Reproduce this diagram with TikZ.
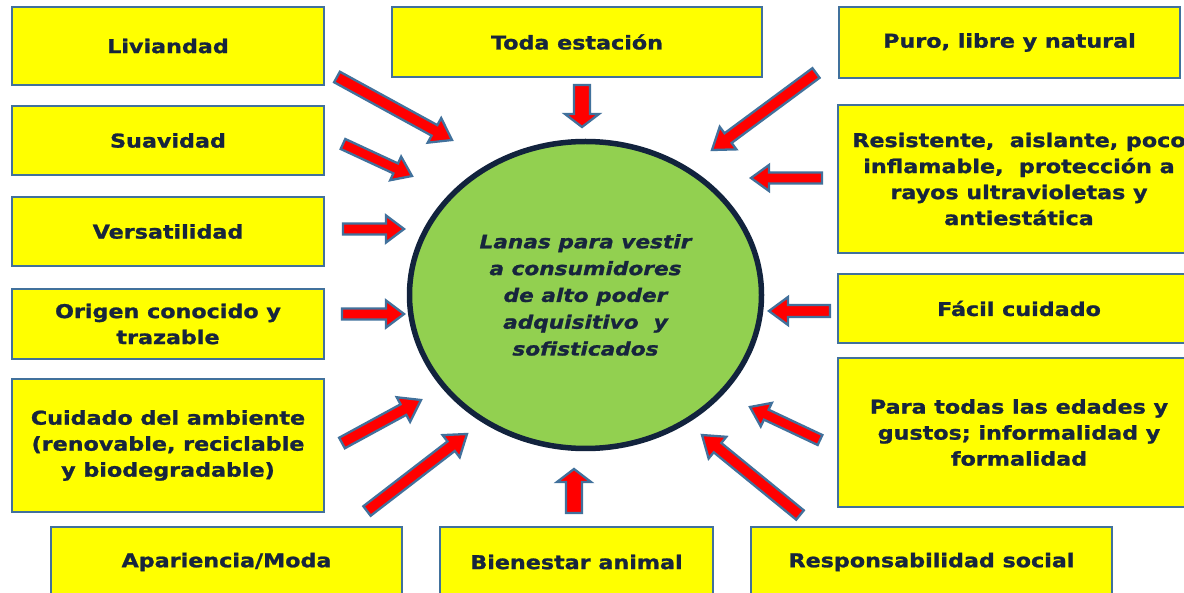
\documentclass[tikz,border=0pt]{standalone}
\usepackage{fontspec}
\newfontfamily\boxfont{DejaVu Sans}[FakeStretch=1.17, BoldFeatures={FakeBold=1.2}, BoldItalicFeatures={FakeBold=1.2}]
\usetikzlibrary{calc,shapes.geometric}
\definecolor{boxyellow}{RGB}{255,255,0}
\definecolor{boxline}{RGB}{65,113,156}
\definecolor{txt}{RGB}{23,37,61}
\definecolor{cgreen}{RGB}{146,208,80}
\definecolor{cline}{RGB}{18,35,61}
\definecolor{ared}{RGB}{255,0,0}
\tikzset{
  box/.style={draw=boxline, line width=2pt, fill=boxyellow, text=txt,
    font=\boxfont\bfseries\fontsize{19}{26}\selectfont, align=center, inner sep=0pt},
  hub/.style={ellipse, draw=cline, line width=5.5pt, fill=cgreen, text=txt,
    font=\boxfont\bfseries\itshape\fontsize{18.5}{26.8}\selectfont, align=center, inner sep=0pt},
  arrowshape/.style={draw=boxline, line width=2.3pt, fill=ared, line join=miter},
}
\newcommand\blockarrow[5]{%
  \coordinate (bah) at ($(#2)!#5!(#1)$);
  \draw[arrowshape] ($(#1)!#3!90:(#2)$) -- ($(bah)!#3!90:(#2)$) -- ($(bah)!#4!90:(#2)$) -- (#2)
    -- ($(bah)!#4!-90:(#2)$) -- ($(bah)!#3!-90:(#2)$) -- ($(#1)!#3!-90:(#2)$) -- cycle;}
\begin{document}
\begin{tikzpicture}[x=1pt,y=-1pt]
\useasboundingbox (0,0) rectangle (1184,593);
\clip (0,0) rectangle (1184,593);
\fill[white] (0,0) rectangle (1184,593);

% left column
\node[box, minimum width=312pt, minimum height=78pt] (liv) at (168,46) {Liviandad};
\node[box, minimum width=312pt, minimum height=69pt] (sua) at (168,140.5) {Suavidad};
\node[box, minimum width=312pt, minimum height=69pt] (ver) at (168,231.5) {Versatilidad};
\node[box, minimum width=312pt, minimum height=70pt] (ori) at (168,324) {Origen conocido y\\trazable};
\node[box, minimum width=312pt, minimum height=133pt] (cui) at (168,445.5) {Cuidado del ambiente\\(renovable, reciclable\\y biodegradable)};
% bottom row
\node[box, minimum width=351pt, minimum height=70pt] (apa) at (226.5,562) {Apariencia/Moda};
\node[box, minimum width=273pt, minimum height=70pt] (bie) at (576.5,562) {Bienestar animal};
\node[box, minimum width=361pt, minimum height=70pt] (rso) at (931.5,562) {Responsabilidad social};
% top row
\node[box, minimum width=370pt, minimum height=70pt] (tod) at (577,42) {Toda estación};
\node[box, minimum width=341pt, minimum height=71pt] (pur) at (1009.5,42.5) {Puro, libre y natural};
% right column
\node[box, minimum width=362pt, minimum height=148pt] (rsi) at (1019,179) {Resistente,\ \ aislante, poco\\inflamable,\ \ protección a\\rayos ultravioletas y\\antiestática};
\node[box, minimum width=362pt, minimum height=69pt] (fac) at (1019,308.5) {Fácil cuidado};
\node[box, minimum width=362pt, minimum height=149pt] (par) at (1019,432.5) {Para todas las edades y\\gustos; informalidad y\\formalidad};

% centre
\node[hub, minimum width=352pt, minimum height=307pt] (c) at (585.5,295) {Lanas para vestir\\a consumidores\\de alto poder\\adquisitivo\ \ y\\sofisticados};

% arrow ends
\coordinate (t1) at (337,77);  \coordinate (h1) at (452,140);
\coordinate (t2) at (343,144); \coordinate (h2) at (412,176);
\coordinate (t3) at (343,229); \coordinate (h3) at (404,229);
\coordinate (t4) at (342,314); \coordinate (h4) at (404,314);
\coordinate (t5) at (342,443); \coordinate (h5) at (421,400);
\coordinate (t6) at (367,511); \coordinate (h6) at (467,434);
\coordinate (t7) at (574,513); \coordinate (h7) at (574,469);
\coordinate (t8) at (800,515); \coordinate (h8) at (702,435);
\coordinate (t9) at (820,440); \coordinate (h9) at (750,407);
\coordinate (t10) at (830,311); \coordinate (h10) at (769,311);
\coordinate (t11) at (822,178); \coordinate (h11) at (751,178);
\coordinate (t12) at (816,73); \coordinate (h12) at (712,150);
\coordinate (t13) at (582,85); \coordinate (h13) at (582,127);

\blockarrow{t1}{h1}{6pt}{14pt}{20pt}
\blockarrow{t2}{h2}{5.5pt}{13pt}{18pt}
\blockarrow{t3}{h3}{5.5pt}{13.5pt}{18pt}
\blockarrow{t4}{h4}{5.5pt}{13.5pt}{18pt}
\blockarrow{t5}{h5}{6pt}{14pt}{20pt}
\blockarrow{t6}{h6}{6pt}{14pt}{20pt}
\blockarrow{t7}{h7}{8pt}{17pt}{13pt}
\blockarrow{t8}{h8}{6pt}{14pt}{20pt}
\blockarrow{t9}{h9}{5.5pt}{13pt}{18pt}
\blockarrow{t10}{h10}{6pt}{14pt}{19pt}
\blockarrow{t11}{h11}{5.5pt}{13pt}{18pt}
\blockarrow{t12}{h12}{6pt}{14pt}{20pt}
\blockarrow{t13}{h13}{8pt}{17pt}{13pt}
\end{tikzpicture}
\end{document}
